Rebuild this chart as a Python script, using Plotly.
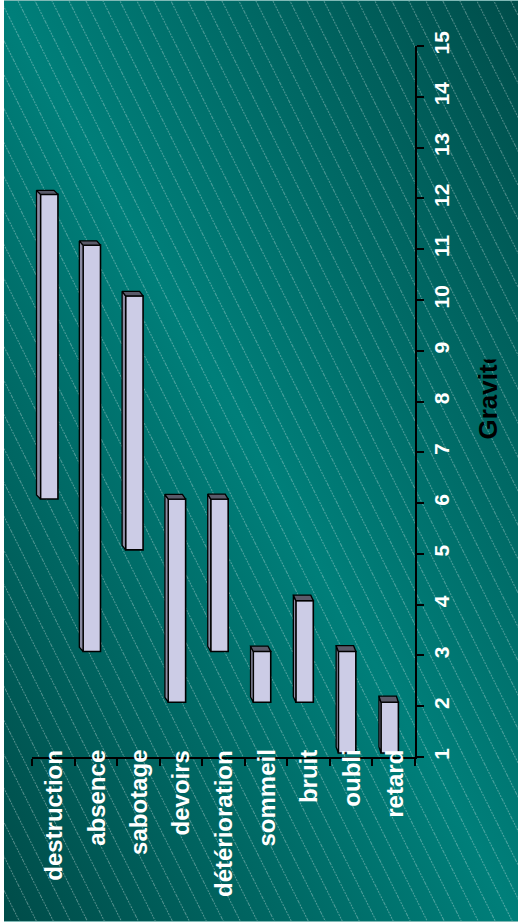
import base64
import plotly.graph_objects as go

# ---- data ----
categories = ["destruction", "absence", "sabotage", "devoirs", "détérioration",
              "sommeil", "bruit", "oubli", "retard"]
low_values = [6, 3, 5, 2, 3, 2, 2, 1, 1]
high_values = [12, 11, 10, 6, 6, 3, 4, 3, 2]
gravity_ticks = list(range(1, 16))
axis_title = "Gravité"

# ---- geometry / style ----
W, H = 518, 923
L, R, T, B = 32, 103, 46, 166
plot_w = W - L - R
plot_h = H - T - B
x_unit = plot_w / len(categories)          # px per category
y_unit = plot_h / (gravity_ticks[-1] - gravity_ticks[0])  # px per gravity unit
FONT = "Liberation Sans"
front_col = "#CCCCE6"
top_col = "#5A5A69"
side_col = "#8C8CA3"
lift = 4 / y_unit
bar_offset = -0.3
bar_width = 0.41

# ---- background (gradient + diagonal hatching) ----
svg = f'''<svg xmlns="http://www.w3.org/2000/svg" width="{W}" height="{H}" viewBox="0 0 {W} {H}">
<defs>
<linearGradient id="g" x1="1" y1="0" x2="0" y2="1">
<stop offset="0" stop-color="#004E4B"/>
<stop offset="0.5" stop-color="#007F7A"/>
<stop offset="1" stop-color="#004C49"/>
</linearGradient>
<pattern id="p" patternUnits="userSpaceOnUse" width="15.2" height="20" patternTransform="rotate(-26.57)">
<line x1="0.5" y1="0" x2="0.5" y2="20" stroke="#FFFFFF" stroke-opacity="0.32" stroke-width="1" stroke-dasharray="2 1"/>
</pattern>
</defs>
<rect x="0" y="0" width="{W}" height="{H}" fill="#FFFFFF"/>
<rect x="4" y="1" width="{W-4}" height="{H-3}" fill="url(#g)"/>
<rect x="4" y="1" width="{W-4}" height="{H-3}" fill="url(#p)"/>
<line x1="4" y1="0.5" x2="{W}" y2="0.5" stroke="#7FB8B5" stroke-width="1"/>
<line x1="4" y1="{H-1.5}" x2="{W}" y2="{H-1.5}" stroke="#7FB8B5" stroke-width="1"/>
</svg>'''
svg_uri = "data:image/svg+xml;base64," + base64.b64encode(svg.encode("utf-8")).decode()

fig = go.Figure()

# depth faces (3D look)
side_x, side_y, top_x, top_y = [], [], [], []
n = len(categories)
for i, (lo, hi) in enumerate(zip(low_values, high_values)):
    dx = (4 - 2 * i / (n - 1)) / x_unit
    dy = (4 + 2 * i / (n - 1)) / y_unit
    xl = i + bar_offset
    xr = xl + bar_width
    b = lo + lift
    t = hi + lift
    side_x += [xl, xl, xl - dx, xl - dx, xl, None]
    side_y += [b, t, t + dy, b + dy, b, None]
    top_x += [xl, xr, xr - dx, xl - dx, xl, None]
    top_y += [t, t, t + dy, t + dy, t, None]

fig.add_trace(go.Scatter(x=side_x, y=side_y, mode="lines", fill="toself",
                         fillcolor=side_col, line=dict(color="black", width=1.3),
                         hoverinfo="skip", showlegend=False))
fig.add_trace(go.Scatter(x=top_x, y=top_y, mode="lines", fill="toself",
                         fillcolor=top_col, line=dict(color="black", width=1.3),
                         hoverinfo="skip", showlegend=False))

# front faces
fig.add_trace(go.Bar(
    x=list(range(n)),
    y=[h - l for l, h in zip(low_values, high_values)],
    base=[l + lift for l in low_values],
    width=bar_width, offset=bar_offset,
    marker=dict(color=front_col, line=dict(color="black", width=1.6)),
    customdata=list(zip(categories, low_values, high_values)),
    hovertemplate="%{customdata[0]}: %{customdata[1]} – %{customdata[2]}<extra></extra>",
    showlegend=False,
))

annotations = []
for i, c in enumerate(categories):
    annotations.append(dict(
        x=i, xref="x", y=(757 - 748) / plot_h, yref="paper",
        text=f"<b>{c}</b>", textangle=-90, showarrow=False,
        xanchor="center", yanchor="top",
        font=dict(family=FONT, size=24, color="white"),
    ))
annotations.append(dict(
    x=(487.5 - L) / plot_w, xref="paper", y=(H - B - 441) / plot_h, yref="paper",
    text=f"<b>{axis_title}</b>", textangle=-90, showarrow=False, width=80, align="left",
    xanchor="center", yanchor="bottom",
    font=dict(family=FONT, size=26, color="black"),
))

fig.update_layout(
    width=W, height=H,
    margin=dict(l=L, r=R, t=T, b=B, pad=0),
    paper_bgcolor="rgba(0,0,0,0)",
    plot_bgcolor="rgba(0,0,0,0)",
    barmode="overlay",
    showlegend=False,
    images=[dict(source=svg_uri, xref="paper", yref="paper",
                 x=-L / plot_w, y=1 + T / plot_h,
                 sizex=W / plot_w, sizey=H / plot_h,
                 xanchor="left", yanchor="top", sizing="stretch", layer="below")],
    annotations=annotations,
    xaxis=dict(
        range=[-0.5, n - 0.5], showgrid=False, zeroline=False,
        showline=True, linecolor="black", linewidth=2,
        tickmode="array", tickvals=[i - 0.5 for i in range(n + 1)],
        ticks="outside", ticklen=7, tickwidth=2, tickcolor="black",
        showticklabels=False, fixedrange=True,
    ),
    yaxis=dict(
        range=[gravity_ticks[0], gravity_ticks[-1]], side="right",
        showgrid=False, zeroline=False,
        showline=True, linecolor="black", linewidth=2,
        tickmode="array", tickvals=gravity_ticks,
        ticktext=[f"<b>{v}</b>" for v in gravity_ticks],
        ticks="outside", ticklen=7, tickwidth=2, tickcolor="black",
        tickangle=-90,
        tickfont=dict(family=FONT, size=21, color="white"),
        fixedrange=True,
    ),
)

fig.write_html("out.html", config={"displayModeBar": False})
